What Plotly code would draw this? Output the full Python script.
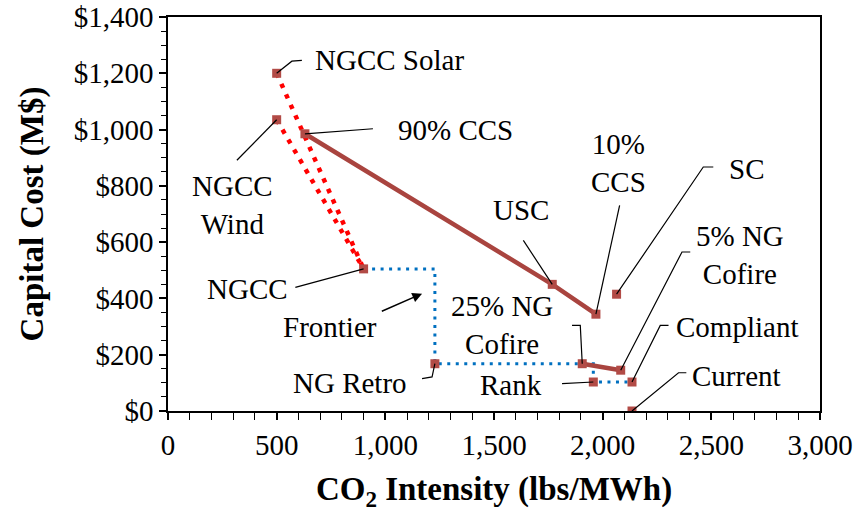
import plotly.graph_objects as go

# ---- data ----
names = ["NGCC Solar", "NGCC Wind", "90% CCS", "NGCC", "USC", "10% CCS", "SC",
         "NG Retro", "25% NG Cofire", "5% NG Cofire", "Rank", "Compliant", "Current"]
intensity = [500, 500, 630, 900, 1768, 1969, 2064, 1228, 1906, 2083, 1957, 2135, 2135]
cost = [1200, 1035, 985, 505, 450, 344, 415, 168, 168, 145, 103, 103, 0]

pt = {n: (x, y) for n, x, y in zip(names, intensity, cost)}

ccs_path = ["90% CCS", "USC", "10% CCS"]
cofire_path = ["25% NG Cofire", "5% NG Cofire"]
solar_path = ["NGCC Solar", "NGCC"]
wind_path = ["NGCC Wind", "NGCC"]
frontier_path = ["NGCC", "NG Retro", "Rank", "Compliant"]

x_ticks = [0, 500, 1000, 1500, 2000, 2500, 3000]
x_ticktext = ["0", "500", "1,000", "1,500", "2,000", "2,500", "3,000"]
y_ticks = [0, 200, 400, 600, 800, 1000, 1200, 1400]
y_ticktext = ["$0", "$200", "$400", "$600", "$800", "$1,000", "$1,200", "$1,400"]

BROWN = "#A9443F"
MARK = "#B24B46"
RED = "#FF0000"
BLUE = "#0070C0"
FONT = "Liberation Serif, Times New Roman, Tinos, serif"


def xs(p):
    return [pt[n][0] for n in p]


def ys(p):
    return [pt[n][1] for n in p]


fig = go.Figure()

for p in (solar_path, wind_path):
    fig.add_trace(go.Scatter(x=xs(p), y=ys(p), mode="lines",
                             line=dict(color=RED, width=4.5, dash="4.5px,7px"),
                             hoverinfo="skip", showlegend=False))

fig.add_trace(go.Scatter(x=xs(frontier_path), y=ys(frontier_path), mode="lines",
                         line=dict(color=BLUE, width=3, dash="3px,5.5px", shape="hv"),
                         hoverinfo="skip", showlegend=False))

for p in (ccs_path, cofire_path):
    fig.add_trace(go.Scatter(x=xs(p), y=ys(p), mode="lines",
                             line=dict(color=BROWN, width=4.5),
                             hoverinfo="skip", showlegend=False))

fig.add_trace(go.Scatter(x=intensity, y=cost, mode="markers", text=names,
                         marker=dict(symbol="square", size=9, color=MARK),
                         showlegend=False))

# ---- labels and leader lines ----
labels = [
    # text, label x, label y, source point, leader path (from the point)
    ("NGCC Solar", 1020, 1246, "NGCC Solar", [(570, 1243), (616, 1246)]),
    ("NGCC<br>Wind", 296, 731, "NGCC Wind", [(317, 891)]),
    ("90% CCS", 1323, 997, "90% CCS", [(943, 1003)]),
    ("NGCC", 365, 433, "NGCC", [(586, 439)]),
    ("USC", 1622, 716, "USC", [(1635, 606)]),
    ("10%<br>CCS", 2072, 883, "10% CCS", [(2078, 731)]),
    ("SC", 2661, 859, "SC", [(2463, 867), (2509, 867)]),
    ("5% NG<br>Cofire", 2633, 553, "5% NG Cofire", [(2365, 565), (2403, 565)]),
    ("Compliant", 2620, 298, "Compliant", [(2265, 304), (2303, 304)]),
    ("Current", 2615, 123, "Current", [(2349, 136), (2385, 136)]),
    ("25% NG<br>Cofire", 1539, 304, "25% NG Cofire", [(1897, 304), (1859, 304)]),
    ("Rank", 1576, 91, "Rank", [(1813, 97)]),
    ("NG Retro", 839, 98, "NG Retro", [(1215, 121), (1169, 115)]),
    ("Frontier", 747, 298, None, []),
]

annotations = []
shapes = []
for text, lx, ly, src, leader in labels:
    annotations.append(dict(x=lx, y=ly, xref="x", yref="y", text=text,
                            showarrow=False, xanchor="center", yanchor="middle",
                            font=dict(family=FONT, size=29, color="black")))
    if src:
        x0, y0 = pt[src]
        path = f"M {x0},{y0} " + " ".join(f"L {a},{b}" for a, b in leader)
        shapes.append(dict(type="path", path=path, xref="x", yref="y",
                           line=dict(color="black", width=1.2)))

# Frontier arrow
annotations.append(dict(x=1169, y=417, ax=977, ay=352, xref="x", yref="y",
                        axref="x", ayref="y", text="", showarrow=True,
                        arrowhead=2, arrowsize=1.3, arrowwidth=1.5,
                        arrowcolor="black"))

fig.update_layout(
    width=859, height=512,
    margin=dict(l=168, r=39, t=17, b=101),
    plot_bgcolor="white", paper_bgcolor="white",
    font=dict(family=FONT, size=29, color="black"),
    annotations=annotations, shapes=shapes,
    xaxis=dict(
        range=[0, 3000], tickmode="array", tickvals=x_ticks, ticktext=x_ticktext,
        ticks="outside", ticklen=7, tickwidth=1.5, tickcolor="black",
        minor=dict(dtick=100, ticks="outside", ticklen=7, tickwidth=1.2, tickcolor="black"),
        showline=True, linecolor="black", linewidth=1.5, mirror=True,
        showgrid=False, zeroline=False, automargin=False,
        ticklabeloverflow="allow",
        tickfont=dict(family=FONT, size=29),
        title=dict(text="CO<sub>2</sub> Intensity (lbs/MWh)",
                   font=dict(family=FONT, size=33, weight="bold"), standoff=18),
    ),
    yaxis=dict(
        range=[0, 1400], tickmode="array", tickvals=y_ticks, ticktext=y_ticktext,
        ticks="outside", ticklen=7, tickwidth=1.5, tickcolor="black",
        minor=dict(dtick=50, ticks="outside", ticklen=5, tickwidth=1.2, tickcolor="black"),
        showline=True, linecolor="black", linewidth=1.5, mirror=True,
        showgrid=False, zeroline=False, automargin=False,
        ticklabeloverflow="allow",
        tickfont=dict(family=FONT, size=29),
        title=dict(text="Capital Cost (M$)",
                   font=dict(family=FONT, size=33, weight="bold"), standoff=20),
    ),
)

# remove the default 8px page margin so the figure fills the window exactly
fig.write_html("out.html",
               config={"displayModeBar": False},
               post_script="document.body.style.margin='0';document.body.style.overflow='hidden';")
